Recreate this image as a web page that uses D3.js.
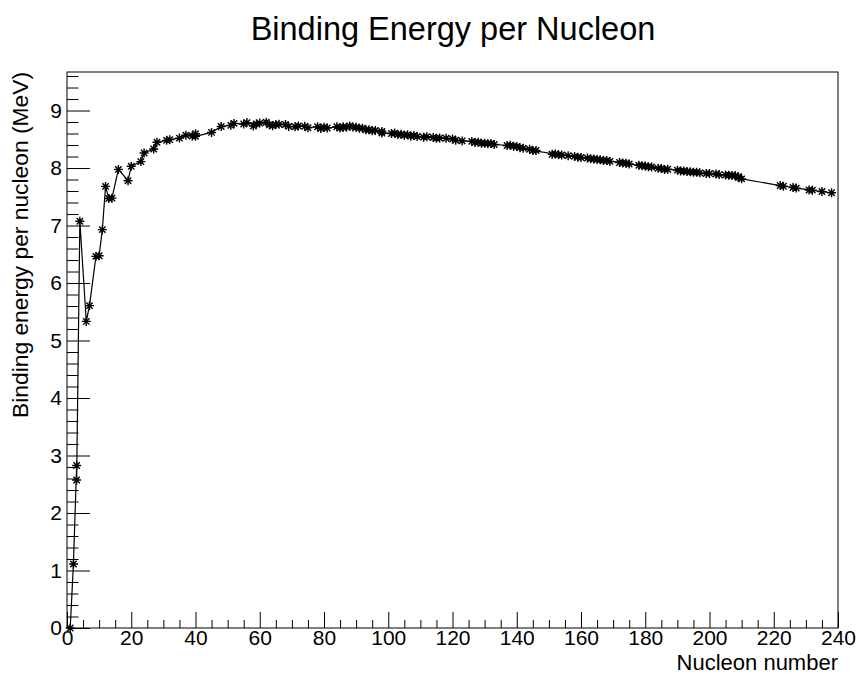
<!DOCTYPE html>
<html>
<head>
<meta charset="utf-8">
<script src="https://cdn.jsdelivr.net/npm/d3@7"></script>
<style>
  body { margin: 0; background: #fff; }
  svg text { font-family: "Liberation Sans", Arial, Helvetica, sans-serif; fill: #000; }
</style>
</head>
<body>
<script>
'use strict'
// data: light isotopes, then the main stable isotopes of each element, ordered by Z
var massNumber = [1, 2, 3, 3, 4, 6, 7, 9, 10, 11, 12, 13, 14, 16, 19, 20, 23, 24, 27, 28, 31, 32, 35, 37,
  40, 39, 40, 45, 48, 51, 52, 55, 56, 59, 58, 60, 62, 63, 65, 64, 66, 68, 69, 71, 72, 74, 75, 78, 80,
  79, 81, 84, 86, 85, 87, 86, 88, 89, 90, 91, 92, 94, 93, 95, 96, 98, 98, 101, 102, 104, 103,
  105, 106, 108, 107, 109, 111, 112, 114, 115, 116, 118, 120, 121, 123, 126, 128, 130, 127,
  129, 131, 132, 133, 137, 138, 139, 140, 141, 142, 144, 146, 145, 152, 154, 151, 153,
  156, 158, 160, 159, 162, 163, 164, 165, 166, 167, 168, 169, 172, 173, 174, 175,
  178, 179, 180, 181, 182, 184, 186, 185, 187, 190, 192, 191, 193, 194, 195, 196, 197,
  199, 200, 202, 203, 205, 206, 207, 208, 209, 209, 210, 222, 223, 226, 227, 232, 231, 235, 238];
var bindingEnergy = [0, 1.112, 2.827, 2.573, 7.074, 5.332, 5.606, 6.463, 6.475, 6.928, 7.680, 7.470, 7.476,
  7.976, 7.779, 8.032, 8.112, 8.261, 8.332, 8.448, 8.481, 8.493, 8.520, 8.570,
  8.595, 8.557, 8.551, 8.619, 8.723, 8.742, 8.776, 8.765, 8.790, 8.768, 8.732, 8.781, 8.795, 8.752, 8.757,
  8.736, 8.760, 8.756, 8.724, 8.718, 8.732, 8.725, 8.701, 8.718, 8.711,
  8.688, 8.696, 8.717, 8.712, 8.697, 8.711, 8.709, 8.733, 8.714, 8.710, 8.693, 8.693, 8.667, 8.664,
  8.649, 8.654, 8.635, 8.610, 8.601, 8.607, 8.587, 8.584,
  8.571, 8.580, 8.567, 8.554, 8.548, 8.537, 8.545, 8.532, 8.517, 8.523, 8.517, 8.505, 8.482, 8.472,
  8.463, 8.449, 8.430, 8.446,
  8.431, 8.424, 8.428, 8.410, 8.392, 8.394, 8.378, 8.376, 8.354, 8.346, 8.327, 8.304, 8.303, 8.244, 8.227,
  8.239, 8.229,
  8.215, 8.202, 8.183, 8.189, 8.173, 8.162, 8.159, 8.147, 8.142, 8.132, 8.130, 8.115, 8.097, 8.088, 8.084,
  8.069,
  8.049, 8.039, 8.035, 8.023, 8.018, 7.994, 7.973, 7.991, 7.978, 7.963, 7.948, 7.948, 7.938, 7.936, 7.927,
  7.927, 7.916,
  7.905, 7.906, 7.897, 7.886, 7.878, 7.875, 7.870, 7.868, 7.848, 7.835, 7.812, 7.695, 7.683, 7.662, 7.651,
  7.615, 7.618, 7.591, 7.570];
var xTicks = d3.range(0, 241, 20);
var yTicks = d3.range(0, 10, 1);

var W = 859, H = 675;
var padL = 67, padR = 838, padT = 72, padB = 628;

var svg = d3.select("body").append("svg")
  .attr("width", W).attr("height", H);

var x = d3.scaleLinear().domain([0, 240]).range([padL, padR]);
var y = d3.scaleLinear().domain([0, 9.67]).range([padB, padT]);

// x axis: major + minor ticks pointing into the frame
svg.append("g")
  .attr("transform", `translate(0,${padB})`)
  .call(d3.axisBottom(x).tickValues(d3.range(0, 241, 5).filter(v => v % 20 != 0))
    .tickSizeInner(-8).tickSizeOuter(0).tickFormat(""))
  .call(g => g.select(".domain").remove());
svg.append("g")
  .attr("transform", `translate(0,${padB})`)
  .call(d3.axisBottom(x).tickValues(xTicks).tickSizeInner(-16).tickSizeOuter(0).tickPadding(2))
  .call(g => g.select(".domain").remove())
  .call(g => g.selectAll("text").style("font-size", "21px"));

// y axis
var yMinor = d3.range(0, 49).map(i => i * 0.2).filter(v => Math.abs(v - Math.round(v)) > 0.01 && v < 9.67);
svg.append("g")
  .attr("transform", `translate(${padL},0)`)
  .call(d3.axisLeft(y).tickValues(yMinor).tickSizeInner(-11.5).tickSizeOuter(0).tickFormat(""))
  .call(g => g.select(".domain").remove());
svg.append("g")
  .attr("transform", `translate(${padL},0)`)
  .call(d3.axisLeft(y).tickValues(yTicks).tickSizeInner(-23).tickSizeOuter(0).tickPadding(5))
  .call(g => g.select(".domain").remove())
  .call(g => g.selectAll("text").style("font-size", "21px"));

svg.selectAll(".tick line").attr("stroke", "#000");

// frame
svg.append("rect")
  .attr("x", padL).attr("y", padT)
  .attr("width", padR - padL).attr("height", padB - padT)
  .attr("fill", "none").attr("stroke", "#000").attr("stroke-width", 1);

// graph line
var pts = massNumber.map((a, i) => [a, bindingEnergy[i]]);
svg.append("path")
  .datum(pts)
  .attr("fill", "none")
  .attr("stroke", "#000")
  .attr("stroke-width", 1.2)
  .attr("d", d3.line().x(d => x(d[0])).y(d => y(d[1])));

// star markers (+ and x)
var s = 4.5, sd = 3.2;
svg.selectAll("path.marker")
  .data(pts)
  .enter().append("path")
  .attr("class", "marker")
  .attr("stroke", "#000")
  .attr("stroke-width", 1.4)
  .attr("d", d => {
    var px = x(d[0]), py = y(d[1]);
    return `M${px - s},${py}H${px + s}M${px},${py - s}V${py + s}` +
      `M${px - sd},${py - sd}L${px + sd},${py + sd}M${px - sd},${py + sd}L${px + sd},${py - sd}`;
  });

// titles
svg.append("text")
  .attr("x", 453).attr("y", 40)
  .attr("text-anchor", "middle")
  .style("font-size", "32.5px")
  .text("Binding Energy per Nucleon");

svg.append("text")
  .attr("x", padR).attr("y", 670)
  .attr("text-anchor", "end")
  .style("font-size", "22px")
  .text("Nucleon number");

svg.append("text")
  .attr("transform", `translate(28,${padT}) rotate(-90)`)
  .attr("text-anchor", "end")
  .style("font-size", "22.8px")
  .text("Binding energy per nucleon (MeV)");
</script>
</body>
</html>
